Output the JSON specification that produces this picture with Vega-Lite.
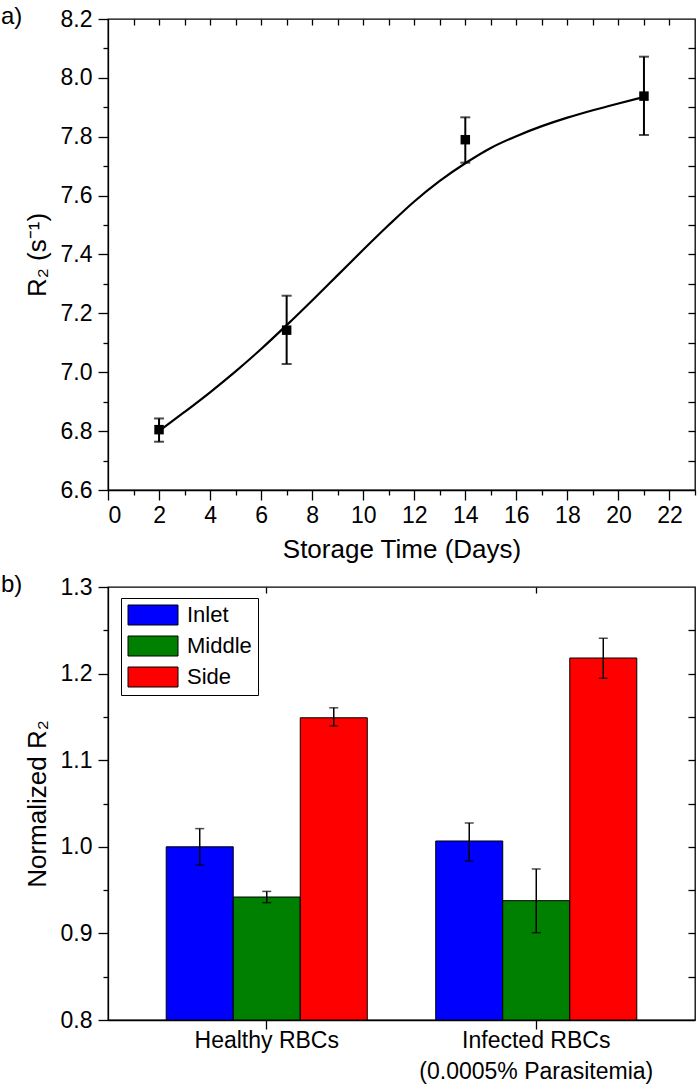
{
  "$schema": "https://vega.github.io/schema/vega-lite/v6.json",
  "padding": {"left": 0, "top": 4, "right": 4, "bottom": 0},
  "spacing": 9,
  "resolve": {"legend": {"color": "independent"}},
  "datasets": {
    "pts": [
      {"day": 2, "r2": 6.805, "lo": 6.764, "hi": 6.843},
      {"day": 7, "r2": 7.143, "lo": 7.028, "hi": 7.26},
      {"day": 14, "r2": 7.79, "lo": 7.712, "hi": 7.866},
      {"day": 21, "r2": 7.938, "lo": 7.806, "hi": 8.072}
    ],
    "fit": [
      {"day": 2, "r2": 6.8}, {"day": 3, "r2": 6.865}, {"day": 4, "r2": 6.932},
      {"day": 5, "r2": 7.003}, {"day": 6, "r2": 7.079}, {"day": 7, "r2": 7.16},
      {"day": 8, "r2": 7.244}, {"day": 9, "r2": 7.33}, {"day": 10, "r2": 7.416},
      {"day": 11, "r2": 7.5}, {"day": 12, "r2": 7.58}, {"day": 13, "r2": 7.65},
      {"day": 14, "r2": 7.71}, {"day": 15, "r2": 7.762}, {"day": 16, "r2": 7.802},
      {"day": 17, "r2": 7.836}, {"day": 18, "r2": 7.865}, {"day": 19, "r2": 7.89},
      {"day": 20, "r2": 7.913}, {"day": 21, "r2": 7.935}
    ],
    "bars": [
      {"group": "Healthy RBCs", "series": "Inlet", "val": 1.0, "lo": 0.979, "hi": 1.021},
      {"group": "Healthy RBCs", "series": "Middle", "val": 0.942, "lo": 0.9355, "hi": 0.9485},
      {"group": "Healthy RBCs", "series": "Side", "val": 1.149, "lo": 1.1395, "hi": 1.1605},
      {"group": "Infected RBCs\n(0.0005% Parasitemia)", "series": "Inlet", "val": 1.0067, "lo": 0.9836, "hi": 1.0275},
      {"group": "Infected RBCs\n(0.0005% Parasitemia)", "series": "Middle", "val": 0.9378, "lo": 0.9008, "hi": 0.9744},
      {"group": "Infected RBCs\n(0.0005% Parasitemia)", "series": "Side", "val": 1.218, "lo": 1.1946, "hi": 1.2408}
    ]
  },
  "vconcat": [
    {
      "width": 587,
      "height": 471,
      "title": {"text": "a)", "anchor": "start", "frame": "group", "dx": -107, "dy": 21, "fontSize": 24, "offset": 0},
      "resolve": {"scale": {"x": "independent", "y": "independent"}, "axis": {"x": "independent", "y": "independent"}},
      "layer": [
        {
          "data": {"name": "pts"},
          "mark": {"type": "rule", "color": "black", "strokeWidth": 2},
          "encoding": {
            "x": {"field": "day", "type": "quantitative", "scale": {"domain": [0, 23], "nice": false, "zero": false},
              "axis": {"orient": "bottom", "values": [0, 2, 4, 6, 8, 10, 12, 14, 16, 18, 20, 22], "tickSize": 10, "labelFontSize": 23, "labelPadding": 4, "title": "Storage Time (Days)", "titleFontSize": 26, "titlePadding": 9}},
            "y": {"field": "lo", "type": "quantitative", "scale": {"domain": [6.6, 8.2], "nice": false, "zero": false},
              "axis": {"orient": "left", "values": [6.6, 6.8, 7.0, 7.2, 7.4, 7.6, 7.8, 8.0, 8.2], "format": ".1f", "tickSize": 10, "labelFontSize": 23, "labelPadding": 6, "title": "R₂ (s⁻¹)", "titleFontSize": 26, "titlePadding": 10}},
            "y2": {"field": "hi"}
          }
        },
        {
          "data": {"name": "pts"},
          "mark": {"type": "tick", "orient": "horizontal", "color": "black", "size": 10, "thickness": 2},
          "encoding": {
            "x": {"field": "day", "type": "quantitative", "scale": {"domain": [0, 23], "nice": false, "zero": false},
              "axis": {"orient": "bottom", "values": [1, 3, 5, 7, 9, 11, 13, 15, 17, 19, 21, 23], "tickSize": 5, "labels": false, "domain": false, "title": null}},
            "y": {"field": "lo", "type": "quantitative", "scale": {"domain": [6.6, 8.2], "nice": false, "zero": false},
              "axis": {"orient": "left", "values": [6.7, 6.9, 7.1, 7.3, 7.5, 7.7, 7.9, 8.1], "tickSize": 5, "labels": false, "domain": false, "title": null}}
          }
        },
        {
          "data": {"name": "pts"},
          "mark": {"type": "tick", "orient": "horizontal", "color": "black", "size": 10, "thickness": 2},
          "encoding": {
            "x": {"field": "day", "type": "quantitative", "scale": {"domain": [0, 23], "nice": false, "zero": false},
              "axis": {"orient": "top", "values": [1, 2, 3, 4, 5, 6, 7, 8, 9, 10, 11, 12, 13, 14, 15, 16, 17, 18, 19, 20, 21, 22], "tickSize": -6, "labels": false, "domain": false, "title": null}},
            "y": {"field": "hi", "type": "quantitative", "scale": {"domain": [6.6, 8.2], "nice": false, "zero": false},
              "axis": {"orient": "right", "values": [6.7, 6.8, 6.9, 7.0, 7.1, 7.2, 7.3, 7.4, 7.5, 7.6, 7.7, 7.8, 7.9, 8.0, 8.1], "tickSize": -7, "labels": false, "domain": false, "title": null}}
          }
        },
        {
          "data": {"name": "fit"},
          "mark": {"type": "line", "color": "black", "strokeWidth": 2.2, "interpolate": "monotone"},
          "encoding": {
            "x": {"field": "day", "type": "quantitative", "scale": {"domain": [0, 23], "nice": false, "zero": false}, "axis": null},
            "y": {"field": "r2", "type": "quantitative", "scale": {"domain": [6.6, 8.2], "nice": false, "zero": false}, "axis": null}
          }
        },
        {
          "data": {"name": "pts"},
          "mark": {"type": "point", "shape": "square", "filled": true, "color": "black", "size": 90, "opacity": 1},
          "encoding": {
            "x": {"field": "day", "type": "quantitative", "scale": {"domain": [0, 23], "nice": false, "zero": false}, "axis": null},
            "y": {"field": "r2", "type": "quantitative", "scale": {"domain": [6.6, 8.2], "nice": false, "zero": false}, "axis": null}
          }
        }
      ]
    },
    {
      "width": 587,
      "height": 433,
      "title": {"text": "b)", "anchor": "start", "frame": "group", "dx": -107, "dy": 21, "fontSize": 24, "offset": 0},
      "data": {"name": "bars"},
      "resolve": {"scale": {"x": "independent", "y": "independent", "xOffset": "independent"}, "axis": {"x": "independent", "y": "independent"}},
      "layer": [
        {
          "mark": {"type": "bar", "stroke": "black", "strokeWidth": 1},
          "encoding": {
            "x": {"field": "group", "type": "nominal", "sort": null,
              "scale": {"domain": ["Healthy RBCs", "Infected RBCs\n(0.0005% Parasitemia)"], "paddingInner": 0.254, "paddingOuter": 0.216},
              "axis": {"orient": "bottom", "labelExpr": "split(datum.label, '\\n')", "labelAngle": 0, "tickSize": 9, "labelFontSize": 23, "labelLineHeight": 31, "labelPadding": 0, "labelLimit": 400, "title": null}},
            "xOffset": {"field": "series", "type": "nominal", "scale": {"domain": ["Inlet", "Middle", "Side"], "paddingInner": 0, "paddingOuter": 0}},
            "y": {"field": "val", "type": "quantitative", "scale": {"domain": [0.8, 1.3], "nice": false, "zero": false},
              "axis": {"orient": "left", "values": [0.8, 0.9, 1.0, 1.1, 1.2, 1.3], "format": ".1f", "tickSize": 10, "labelFontSize": 23, "labelPadding": 6, "title": "Normalized R₂", "titleFontSize": 26, "titlePadding": 10}},
            "y2": {"datum": 0.8},
            "color": {"field": "series", "type": "nominal",
              "scale": {"domain": ["Inlet", "Middle", "Side"], "range": ["#0000ff", "#008000", "#ff0000"]},
              "legend": {"orient": "none", "legendX": 13, "legendY": 11, "title": null, "labelFontSize": 22, "symbolType": "M-1,-1H4V1H-1Z", "symbolSize": 400, "symbolStrokeColor": "black", "symbolStrokeWidth": 1, "symbolOpacity": 1, "labelOffset": 38, "strokeColor": "black", "fillColor": "white", "padding": 6, "rowPadding": 7}}
          }
        },
        {
          "mark": {"type": "rule", "color": "black", "strokeWidth": 1.5},
          "encoding": {
            "x": {"field": "group", "type": "nominal", "sort": null,
              "scale": {"domain": ["Healthy RBCs", "Infected RBCs\n(0.0005% Parasitemia)"], "paddingInner": 0.254, "paddingOuter": 0.216},
              "axis": {"orient": "top", "tickSize": -6, "labels": false, "domain": false, "title": null}},
            "xOffset": {"field": "series", "type": "nominal", "scale": {"domain": ["Inlet", "Middle", "Side"], "paddingInner": 0, "paddingOuter": 0}},
            "y": {"field": "lo", "type": "quantitative", "scale": {"domain": [0.8, 1.3], "nice": false, "zero": false},
              "axis": {"orient": "left", "values": [0.85, 0.95, 1.05, 1.15, 1.25], "tickSize": 5, "labels": false, "domain": false, "title": null}},
            "y2": {"field": "hi"}
          }
        },
        {
          "mark": {"type": "tick", "orient": "horizontal", "color": "black", "size": 9, "thickness": 1.5},
          "encoding": {
            "x": {"field": "group", "type": "nominal", "sort": null,
              "scale": {"domain": ["Healthy RBCs", "Infected RBCs\n(0.0005% Parasitemia)"], "paddingInner": 0.254, "paddingOuter": 0.216}, "axis": null},
            "xOffset": {"field": "series", "type": "nominal", "scale": {"domain": ["Inlet", "Middle", "Side"], "paddingInner": 0, "paddingOuter": 0}},
            "y": {"field": "lo", "type": "quantitative", "scale": {"domain": [0.8, 1.3], "nice": false, "zero": false},
              "axis": {"orient": "right", "values": [0.85, 0.9, 0.95, 1.0, 1.05, 1.1, 1.15, 1.2, 1.25], "tickSize": -7, "labels": false, "domain": false, "title": null}}
          }
        },
        {
          "mark": {"type": "tick", "orient": "horizontal", "color": "black", "size": 9, "thickness": 1.5},
          "encoding": {
            "x": {"field": "group", "type": "nominal", "sort": null,
              "scale": {"domain": ["Healthy RBCs", "Infected RBCs\n(0.0005% Parasitemia)"], "paddingInner": 0.254, "paddingOuter": 0.216}, "axis": null},
            "xOffset": {"field": "series", "type": "nominal", "scale": {"domain": ["Inlet", "Middle", "Side"], "paddingInner": 0, "paddingOuter": 0}},
            "y": {"field": "hi", "type": "quantitative", "scale": {"domain": [0.8, 1.3], "nice": false, "zero": false}, "axis": null}
          }
        }
      ]
    }
  ],
  "config": {
    "font": "Liberation Sans",
    "view": {"stroke": "black", "strokeWidth": 1.3},
    "axis": {"domainColor": "black", "tickColor": "black", "labelColor": "black", "titleColor": "black", "domainWidth": 1.3, "tickWidth": 1.3, "grid": false, "titleFontWeight": "normal"},
    "title": {"fontWeight": "normal", "color": "black"},
    "legend": {"labelColor": "black"}
  }
}
